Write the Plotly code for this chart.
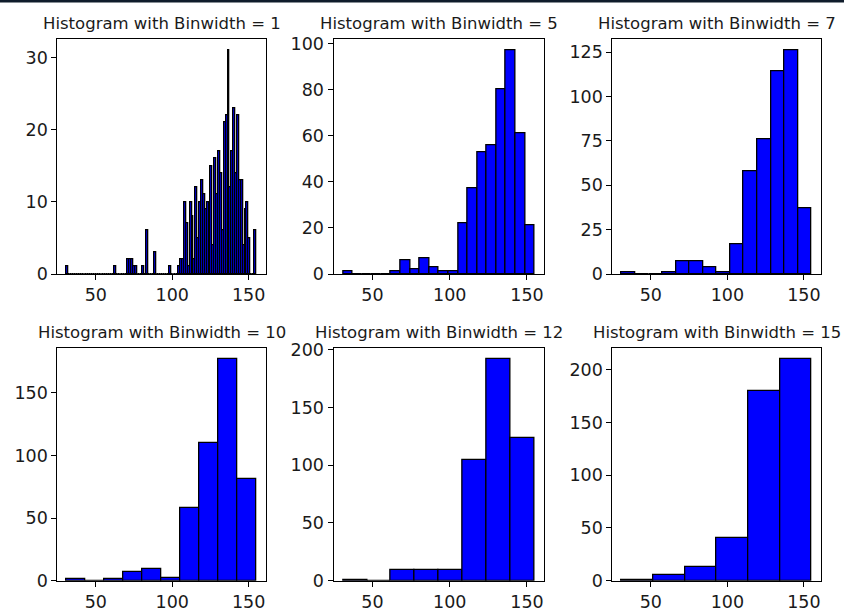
import plotly.graph_objects as go

# ---------------- data ----------------
data_min, data_max = 31.0, 155.0
binwidths = [1, 5, 7, 10, 12, 15]

counts_bw1 = [0] * 100
_bw1_nonzero = {
    0: 1, 25: 1, 32: 2, 33: 2, 34: 2, 35: 1, 36: 1, 40: 1, 42: 6, 46: 3, 54: 1, 59: 1,
    60: 2, 61: 2, 62: 10, 63: 7, 64: 1,
    65: 10, 66: 8, 67: 2, 68: 12, 69: 5,
    70: 10, 71: 13, 72: 11, 73: 9, 74: 10,
    75: 10, 76: 15, 77: 4, 78: 16, 79: 11,
    80: 17, 81: 14, 82: 6, 83: 21, 84: 22,
    85: 31, 86: 12, 87: 17, 88: 23, 89: 14,
    90: 22, 91: 13, 92: 13, 93: 4, 94: 9,
    95: 10, 96: 5, 97: 0, 98: 0, 99: 6,
}
for k, v in _bw1_nonzero.items():
    counts_bw1[k] = v

counts_bw5 = [1, 0, 0, 0, 0, 1, 6, 2, 7, 3, 1, 1, 22, 37, 53, 56, 80, 97, 61, 21]
counts_bw7 = [1, 0, 0, 1, 7, 7, 4, 1, 17, 58, 76, 114, 126, 37]
counts_bw10 = [1, 0, 1, 7, 9, 2, 58, 110, 177, 81]
counts_bw12 = [1, 0, 9, 9, 9, 105, 192, 124]
counts_bw15 = [1, 5, 13, 40, 180, 210]

all_counts = [counts_bw1, counts_bw5, counts_bw7, counts_bw10, counts_bw12, counts_bw15]
y_dticks = [10, 20, 25, 50, 50, 50]
x_ticks = [50, 100, 150]

# ---------------- layout geometry ----------------
W, H = 844, 611
col_px = [(57.3, 265.7), (333.5, 544.3), (612.3, 821.0)]
row_px = [(39.3, 274.0), (348.0, 580.7)]

fig = go.Figure()
span = data_max - data_min
x_lo = data_min - 0.05 * span
x_hi = data_max + 0.05 * span

for i, (bw, counts) in enumerate(zip(binwidths, all_counts)):
    r, c = divmod(i, 3)
    n = len(counts)
    w = span / n
    centers = [data_min + w * (k + 0.5) for k in range(n)]
    ax = "" if i == 0 else str(i + 1)
    fig.add_trace(go.Bar(
        x=centers, y=counts, width=w,
        marker=dict(color="#0000ff", line=dict(color="black", width=1.3)),
        xaxis="x" + ax, yaxis="y" + ax, showlegend=False,
        hoverinfo="x+y",
    ))
    x0, x1 = col_px[c]
    y0, y1 = row_px[r]
    xd = [x0 / W, x1 / W]
    yd = [1 - y1 / H, 1 - y0 / H]
    common = dict(showline=True, mirror=True, linecolor="black", linewidth=1,
                  ticks="outside", ticklen=5, tickwidth=1, tickcolor="black",
                  showgrid=False, zeroline=False, automargin=False,
                  tickfont=dict(family="DejaVu Sans", size=17.5, color="#1a1a1a"))
    fig.layout["xaxis" + ax] = dict(domain=xd, range=[x_lo, x_hi], tickvals=x_ticks,
                                    anchor="y" + ax, **common)
    fig.layout["yaxis" + ax] = dict(domain=yd, range=[0, max(counts) * 1.05],
                                    dtick=y_dticks[i], tick0=0,
                                    anchor="x" + ax, **common)
    fig.add_annotation(
        text=f"Histogram with Binwidth = {bw}",
        x=(xd[0] + xd[1]) / 2, y=yd[1], xref="paper", yref="paper",
        xanchor="center", yanchor="bottom", yshift=4, showarrow=False,
        font=dict(family="DejaVu Sans", size=16.5, color="#1a1a1a"),
    )

# thin dark band at the very top of the reference image
fig.add_shape(type="rect", xref="paper", yref="paper", x0=0, x1=1,
              y0=1 - 2.5 / H, y1=1, fillcolor="#0f1c2b", line=dict(width=0))

fig.update_layout(width=W, height=H, margin=dict(l=0, r=0, t=0, b=0),
                  paper_bgcolor="white", plot_bgcolor="white", bargap=0,
                  showlegend=False)

fig.write_html("out.html")
